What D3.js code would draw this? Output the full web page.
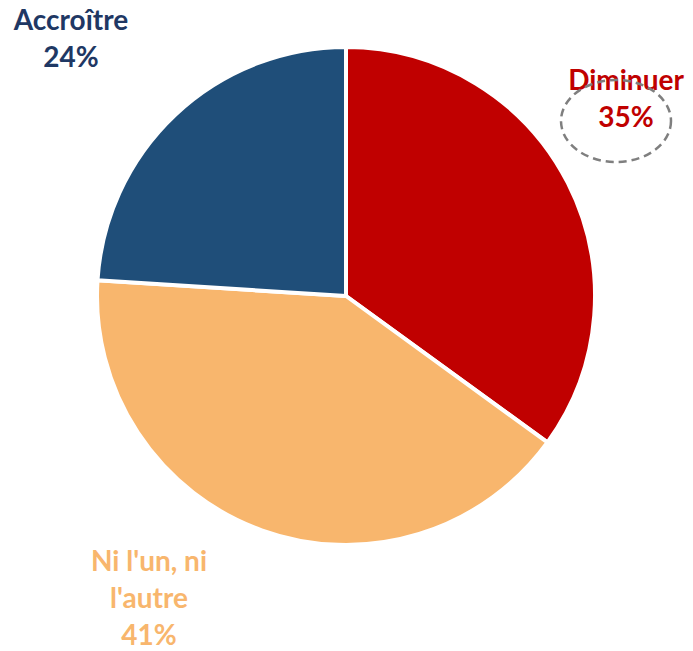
<!DOCTYPE html>
<html>
<head>
<meta charset="utf-8">
<script src="https://cdn.jsdelivr.net/npm/d3@7"></script>
<style>
  html, body { margin: 0; padding: 0; background: #fff; }
  svg text { font-family: Lato, "Open Sans", sans-serif; font-weight: bold; }
</style>
</head>
<body>
<svg id="chart" width="693" height="651"></svg>
<script>
// Survey answer shares (percent)
const categories = ["Diminuer", "Ni l'un, ni l'autre", "Accroître"];
const values = [35, 41, 24];
const sliceColors = ["#C00000", "#F8B66D", "#1F4E79"];
const labelColors = ["#C00000", "#F8B66D", "#1F3864"];
// Label lines for each slice (name split over lines, then the value)
const labelLines = [["Diminuer"], ["Ni l'un, ni", "l'autre"], ["Accroître"]];

const svg = d3.select("#chart");
const cx = 346, cy = 296, radius = 249;

const pie = d3.pie().sort(null).value(d => d)(values);
const arc = d3.arc().innerRadius(0).outerRadius(radius);

const g = svg.append("g").attr("transform", `translate(${cx},${cy})`);
g.selectAll("path")
  .data(pie)
  .join("path")
  .attr("d", arc)
  .attr("fill", (d, i) => sliceColors[i])
  .attr("stroke", "#fff")
  .attr("stroke-width", 4)
  .attr("stroke-linejoin", "round");

// Label anchor positions for each slice
const labelPos = [
  { x: 626, y: 90 },
  { x: 149, y: 571 },
  { x: 71, y: 30 }
];
const lineGap = 37;

labelLines.forEach((lines, i) => {
  const t = svg.append("text")
    .attr("text-anchor", "middle")
    .attr("fill", labelColors[i])
    .attr("font-size", 28);
  const all = lines.concat([values[i] + "%"]);
  all.forEach((s, j) => {
    t.append("tspan")
      .attr("x", labelPos[i].x)
      .attr("y", labelPos[i].y + j * lineGap)
      .text(s);
  });
});

// Dashed highlight ellipse around the "Diminuer" value
svg.append("ellipse")
  .attr("cx", 616).attr("cy", 121)
  .attr("rx", 55).attr("ry", 41)
  .attr("fill", "none")
  .attr("stroke", "#7F7F7F")
  .attr("stroke-width", 2.5)
  .attr("stroke-dasharray", "8,5");
</script>
</body>
</html>
